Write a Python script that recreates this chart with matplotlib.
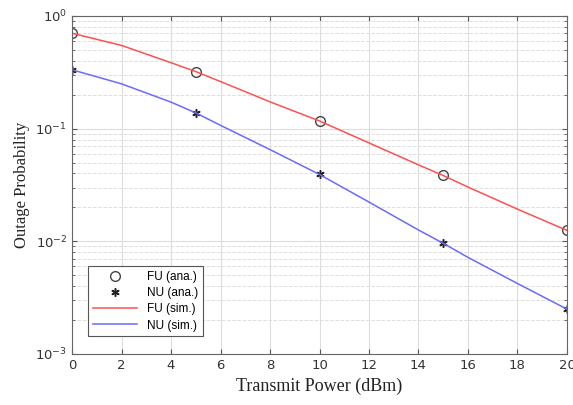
import matplotlib
matplotlib.use('Agg')
import matplotlib.pyplot as plt
import numpy as np

# analytical points
x_ana = [0, 5, 10, 15, 20]
fu_ana = [0.705, 0.32, 0.117, 0.0385, 0.0125]
nu_ana = [0.333, 0.138, 0.0395, 0.0097, 0.0025]

# simulation curves
x_sim = [0, 2, 4, 5, 6, 8, 10, 12, 14, 15, 16, 18, 20]
fu_sim = [0.703, 0.548, 0.385, 0.321, 0.262, 0.173, 0.117, 0.0747, 0.0477, 0.0384, 0.0303, 0.0193, 0.0125]
nu_sim = [0.333, 0.25, 0.172, 0.138, 0.107, 0.0652, 0.0392, 0.0223, 0.0126, 0.0096, 0.0072, 0.00422, 0.0025]

fig = plt.figure(figsize=(5.73, 4.05), dpi=100)
ax = fig.add_axes([0.1257, 0.126, 0.8638, 0.8345])

ax.semilogy(x_ana, fu_ana, 'o', mfc='none', mec='#444444', ms=7, mew=1.0, label='FU (ana.)')
ax.semilogy(x_ana, nu_ana, marker=(6, 2, 0), ls='none', color='#222222', ms=6, mew=1.1, label='NU (ana.)')
ax.semilogy(x_sim, fu_sim, '-', color='#ff5050', lw=1.1, label='FU (sim.)')
ax.semilogy(x_sim, nu_sim, '-', color='#6a6aff', lw=1.1, label='NU (sim.)')

ax.set_xlim(0, 20)
ax.set_ylim(1e-3, 1)
ax.set_xticks(range(0, 21, 2))
ax.grid(True, which='major', color='#dddddd', lw=0.8)
ax.grid(True, which='minor', axis='y', color='#dedede', lw=0.7, ls='--')
ax.tick_params(which='both', direction='in', top=True, right=True,
               labelsize=9.5, colors='#555555', labelcolor='#333333')
for s in ax.spines.values():
    s.set_color('#666666')

ax.set_xlabel('Transmit Power (dBm)', family='Liberation Serif', fontsize=13, color='#222222')
ax.set_ylabel('Outage Probability', family='Liberation Serif', fontsize=12, color='#222222')

leg = ax.legend(loc='lower left', bbox_to_anchor=(0.02, 0.035),
                prop={'family': 'Liberation Sans', 'size': 8.5},
                fancybox=False, edgecolor='#555555', framealpha=1,
                handlelength=3.8, borderpad=0.4, labelspacing=0.35)
leg.get_frame().set_linewidth(0.8)

fig.savefig('out.png', dpi=100)
